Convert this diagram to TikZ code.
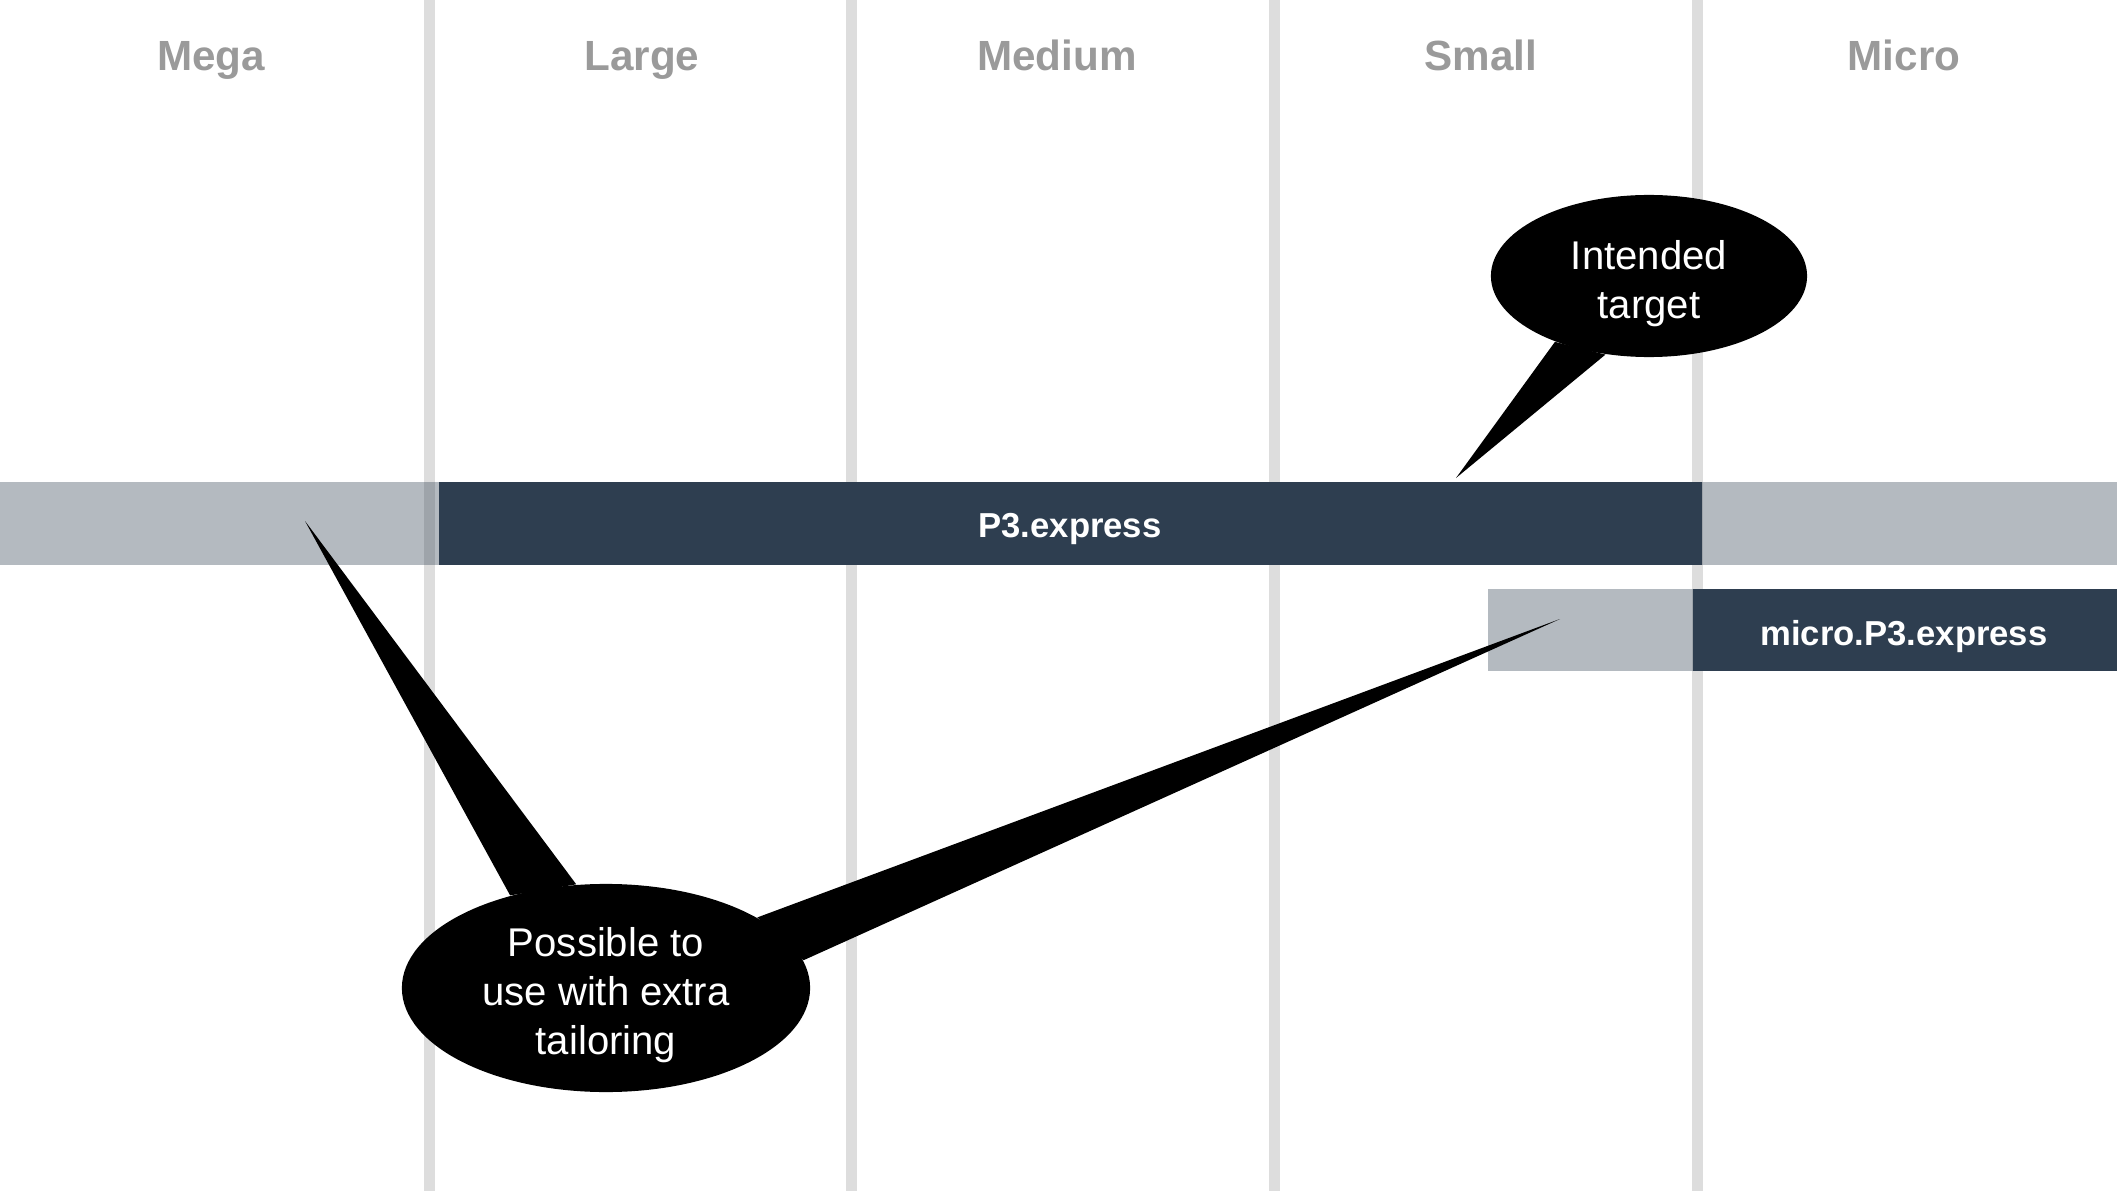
\documentclass[tikz,border=0pt]{standalone}
\usepackage{fontspec}
\setmainfont{Liberation Sans}
\usetikzlibrary{shapes.geometric}
\definecolor{darkc}{RGB}{46,62,80}
\definecolor{gridc}{RGB}{221,221,221}
\definecolor{headc}{RGB}{154,154,154}
\begin{document}
\begin{tikzpicture}[x=0.01cm,y=-0.01cm,
  colline/.style={draw=gridc,line width=0.11cm},
  header/.style={anchor=base,text=headc,font=\bfseries\fontsize{12}{14}\selectfont,inner sep=0pt},
  ghost/.style={fill=darkc,fill opacity=0.355},
  barbox/.style={fill=darkc},
  bartext/.style={text=white,font=\bfseries\fontsize{9.85}{12}\selectfont,anchor=base,inner sep=0pt},
  bubble/.style={ellipse,fill=black,draw=none,inner sep=0pt},
  bubbletext/.style={text=white,align=center,inner sep=0pt,font=\fontsize{11.4}{14}\selectfont}
]
\useasboundingbox (0,0) rectangle (2117,1191);
\fill[white] (0,0) rectangle (2117,1191);
% column separators
\foreach \x in {429,851.5,1274,1697} \draw[colline] (\x,0) -- (\x,1191);
% headers
\node[header] (mega) at (211,71) {Mega};
\node[header] (large) at (642,71) {Large};
\node[header] (medium) at (1057,71) {Medium};
\node[header] (small) at (1481,71) {Small};
\node[header] (micro) at (1904,71) {Micro};
% P3.express row
\fill[ghost] (0,482) rectangle (2117,565);
\fill[barbox] (439,482) rectangle (1702,565);
\node[bartext] (p3) at (1070,537.5) {P3.express};
% micro.P3.express row
\fill[ghost] (1488,589) rectangle (1693,671);
\fill[barbox] (1693,589) rectangle (2117,671);
\node[bartext] (microp3) at (1904,645) {micro.P3.express};
% callout: intended target
\node[bubble,minimum width=3.16cm,minimum height=1.62cm] (intended) at (1649,276) {};
\coordinate (tipA) at (1456,478);
\fill[black] (tipA) -- (intended.215) -- (intended.241) -- cycle;
\node[bubbletext] (intendedlabel) at (1649,284) {Intended\\target};
% callout: possible with tailoring
\node[bubble,minimum width=4.08cm,minimum height=2.08cm] (possible) at (606,988) {};
\coordinate (tipB) at (305,521);
\coordinate (tipC) at (1560,619);
\fill[black] (tipB) -- (possible.136) -- (possible.106) -- cycle;
\fill[black] (tipC) -- (possible.25) -- (possible.8) -- cycle;
\node[bubbletext] (possiblelabel) at (606,995) {Possible to\\use with extra\\tailoring};
\end{tikzpicture}
\end{document}
